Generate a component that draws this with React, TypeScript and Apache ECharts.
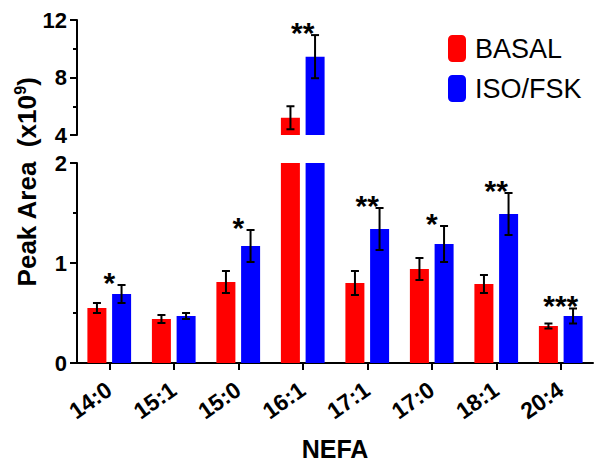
import React, { useEffect, useRef } from 'react';
import * as echarts from 'echarts';

const categories = ['14:0', '15:1', '15:0', '16:1', '17:1', '17:0', '18:1', '20:4'];
const basal = [0.55, 0.44, 0.81, 5.2, 0.8, 0.94, 0.79, 0.37];
const basalErr = [0.05, 0.04, 0.11, 0.8, 0.12, 0.11, 0.09, 0.025];
const iso = [0.69, 0.47, 1.17, 9.45, 1.34, 1.19, 1.49, 0.47];
const isoErr = [0.09, 0.03, 0.16, 1.5, 0.21, 0.18, 0.21, 0.075];
const stars = ['*', '', '*', '**', '**', '*', '**', '***'];
const upperTicks = [4, 8, 12];
const lowerTicks = [0, 1, 2];

const FONT = 'Liberation Sans, Arial, sans-serif';
const RED = '#ff0000';
const BLUE = '#0000ff';
const BAR_W = 19;
const BAR_OFF = 12.3;

export default function App() {
  const ref = useRef<HTMLDivElement>(null);
  useEffect(() => {
    if (!ref.current) return;
    const chart = echarts.init(ref.current, undefined, { renderer: 'svg' });
    const ranges = [
      { min: upperTicks[0], max: upperTicks[upperTicks.length - 1] },
      { min: lowerTicks[0], max: lowerTicks[lowerTicks.length - 1] },
    ];

    const yAxisCfg = (ticks: number[], gridIndex: number) => ({
      type: 'value',
      gridIndex,
      min: ticks[0],
      max: ticks[ticks.length - 1],
      interval: ticks[1] - ticks[0],
      axisLine: { show: true, lineStyle: { color: '#000', width: 2 } },
      axisTick: { show: true, length: 7, lineStyle: { color: '#000', width: 2 } },
      minorTick: { show: true, splitNumber: 2, length: 4, lineStyle: { color: '#000', width: 2 } },
      splitLine: { show: false },
      axisLabel: { color: '#000', fontSize: 22, fontWeight: 'bold', fontFamily: FONT, margin: 10 },
    });

    const errSeries = (vals: number[], errs: number[], off: number, gi: number) => ({
      type: 'custom',
      xAxisIndex: gi,
      yAxisIndex: gi,
      z: 5,
      silent: true,
      data: vals.map((v, i) => [i, v, errs[i]]),
      renderItem: (params: any, api: any) => {
        const i = api.value(0);
        const v = api.value(1);
        const e = api.value(2);
        const r = ranges[gi];
        if (v + e > r.max || v < r.min) return null;
        const top = api.coord([i, v + e]);
        const bot = api.coord([i, Math.max(v - e, r.min)]);
        const x = top[0] + off;
        const st = { stroke: '#000', lineWidth: 2 };
        return {
          type: 'group',
          children: [
            { type: 'line', shape: { x1: x, y1: top[1], x2: x, y2: bot[1] }, style: st },
            { type: 'line', shape: { x1: x - 4, y1: top[1], x2: x + 4, y2: top[1] }, style: st },
            { type: 'line', shape: { x1: x - 4, y1: bot[1], x2: x + 4, y2: bot[1] }, style: st },
          ],
        };
      },
    });

    const starSeries = (gi: number) => ({
      type: 'custom',
      xAxisIndex: gi,
      yAxisIndex: gi,
      z: 6,
      silent: true,
      data: iso.map((v, i) => [i, v + isoErr[i]]),
      renderItem: (params: any, api: any) => {
        const i = api.value(0);
        const t = api.value(1);
        const r = ranges[gi];
        if (t > r.max || t < r.min) return null;
        const s = stars[params.dataIndex];
        if (!s) return null;
        const p = api.coord([i, t]);
        const c = api.coord([i, r.min]);
        return {
          type: 'text',
          x: c[0],
          y: p[1] - 3,
          style: {
            text: s,
            fontSize: 30,
            fontWeight: 'bold',
            fontFamily: FONT,
            fill: '#000',
            align: 'center',
            verticalAlign: 'middle',
          },
        };
      },
    });

    const option: any = {
      animation: false,
      backgroundColor: '#fff',
      grid: [
        { left: 77, top: 20, width: 516, height: 115 },
        { left: 77, top: 163, width: 516, height: 200 },
      ],
      legend: {
        data: ['BASAL', 'ISO/FSK'],
        orient: 'vertical',
        left: 443,
        top: 30,
        itemWidth: 18,
        itemHeight: 27,
        itemGap: 13,
        icon: 'roundRect',
        selectedMode: false,
        textStyle: { fontSize: 27, color: '#000', fontFamily: FONT, padding: [0, 0, 0, 4] },
      },
      xAxis: [
        {
          type: 'category',
          gridIndex: 0,
          data: categories,
          show: false,
        },
        {
          type: 'category',
          gridIndex: 1,
          data: categories,
          axisLine: { show: true, lineStyle: { color: '#000', width: 2 } },
          axisTick: { show: true, alignWithLabel: true, length: 7, lineStyle: { color: '#000', width: 2 } },
          axisLabel: {
            interval: 0,
            rotate: 35,
            margin: 24,
            color: '#000',
            fontSize: 23,
            fontWeight: 'bold',
            fontFamily: FONT,
          },
          name: 'NEFA',
          nameLocation: 'middle',
          nameGap: 73,
          nameTextStyle: { color: '#000', fontSize: 25, fontWeight: 'bold', fontFamily: FONT },
        },
      ],
      yAxis: [yAxisCfg(upperTicks, 0), yAxisCfg(lowerTicks, 1)],
      series: [
        {
          name: 'BASAL',
          type: 'bar',
          xAxisIndex: 1,
          yAxisIndex: 1,
          data: basal,
          barWidth: BAR_W,
          barGap: '30%',
          clip: true,
          itemStyle: { color: RED },
        },
        {
          name: 'ISO/FSK',
          type: 'bar',
          xAxisIndex: 1,
          yAxisIndex: 1,
          data: iso,
          barWidth: BAR_W,
          barGap: '30%',
          clip: true,
          itemStyle: { color: BLUE },
        },
        {
          name: 'BASAL',
          type: 'bar',
          xAxisIndex: 0,
          yAxisIndex: 0,
          data: basal.map((v) => (v > ranges[0].min ? v : '-')),
          barWidth: BAR_W,
          barGap: '30%',
          clip: true,
          itemStyle: { color: RED },
        },
        {
          name: 'ISO/FSK',
          type: 'bar',
          xAxisIndex: 0,
          yAxisIndex: 0,
          data: iso.map((v) => (v > ranges[0].min ? v : '-')),
          barWidth: BAR_W,
          barGap: '30%',
          clip: true,
          itemStyle: { color: BLUE },
        },
        errSeries(basal, basalErr, -BAR_OFF, 0),
        errSeries(iso, isoErr, BAR_OFF, 0),
        errSeries(basal, basalErr, -BAR_OFF, 1),
        errSeries(iso, isoErr, BAR_OFF, 1),
        starSeries(0),
        starSeries(1),
      ],
      graphic: [
        {
          type: 'text',
          x: 27,
          y: 182,
          rotation: Math.PI / 2,
          style: {
            text: '{a|Peak Area  (x10}{s|9}{a|)}',
            align: 'center',
            verticalAlign: 'middle',
            rich: {
              a: { fontSize: 26, fontWeight: 'bold', fontFamily: FONT, fill: '#000' },
              s: { fontSize: 16, fontWeight: 'bold', fontFamily: FONT, fill: '#000', padding: [0, 0, 14, 0] },
            },
          },
        },
      ],
    };
    chart.setOption(option);
    return () => chart.dispose();
  }, []);
  return <div ref={ref} style={{ position: 'fixed', left: 0, top: 0, width: 602, height: 466 }} />;
}
